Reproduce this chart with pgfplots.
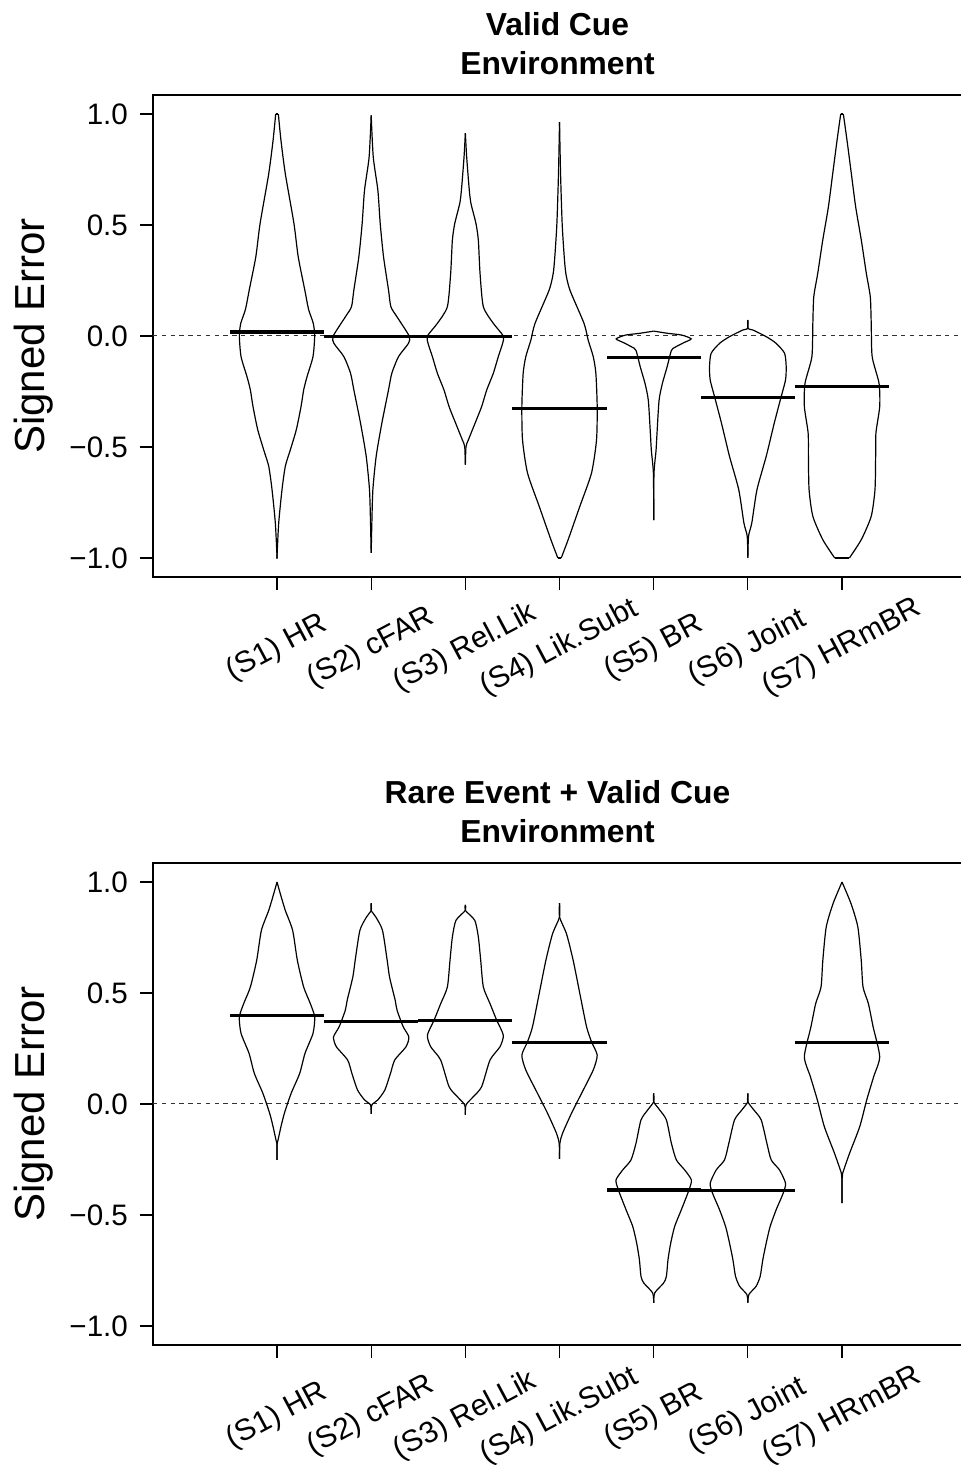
\documentclass[border=0pt]{standalone}
\usepackage{pgfplots}
\pgfplotsset{compat=1.18}
\usepackage{pgfplotstable}
\usepackage{fontspec}
\setmainfont{Liberation Sans}

% ---------- Top panel: Valid Cue Environment (y, half-width) ----------
\pgfplotstableread{
y hw
1.000 0.014
0.881 0.042
0.731 0.088
0.506 0.180
0.357 0.225
0.207 0.295
0.120 0.335
0.057 0.385
0.000 0.400
-0.093 0.382
-0.183 0.319
-0.243 0.283
-0.318 0.255
-0.422 0.205
-0.512 0.142
-0.587 0.088
-0.692 0.053
-0.842 0.018
-0.992 0.000
-1.000 0.000
}\TA
\pgfplotstableread{
y hw
0.994 0.000
0.806 0.022
0.656 0.071
0.506 0.096
0.357 0.131
0.207 0.184
0.132 0.209
0.087 0.273
0.000 0.403
-0.033 0.396
-0.093 0.290
-0.168 0.219
-0.243 0.184
-0.393 0.113
-0.542 0.053
-0.692 0.018
-0.842 0.007
-0.977 0.000
}\TB
\pgfplotstableread{
y hw
0.914 0.000
0.806 0.014
0.656 0.042
0.596 0.060
0.506 0.113
0.431 0.138
0.282 0.156
0.132 0.191
0.057 0.297
0.000 0.403
-0.033 0.396
-0.093 0.350
-0.168 0.297
-0.243 0.227
-0.318 0.173
-0.393 0.103
-0.468 0.032
-0.498 0.007
-0.580 0.000
}\TC
\pgfplotstableread{
y hw
0.963 0.000
0.731 0.011
0.506 0.028
0.357 0.050
0.282 0.067
0.207 0.110
0.057 0.260
-0.018 0.304
-0.093 0.358
-0.168 0.386
-0.318 0.400
-0.468 0.393
-0.617 0.340
-0.767 0.216
-0.917 0.092
-1.000 0.018
}\TD
\pgfplotstableread{
y hw
0.022 0.000
0.012 0.150
0.004 0.300
-0.013 0.398
-0.030 0.320
-0.050 0.230
-0.065 0.188
-0.140 0.142
-0.214 0.092
-0.290 0.057
-0.440 0.035
-0.515 0.025
-0.620 0.003
-0.829 0.000
}\TE
\pgfplotstableread{
y hw
0.072 0.000
0.034 0.000
0.027 0.053
-0.003 0.195
-0.033 0.300
-0.078 0.390
-0.138 0.407
-0.198 0.400
-0.273 0.354
-0.393 0.280
-0.542 0.195
-0.692 0.097
-0.842 0.042
-0.902 0.007
-1.000 0.000
}\TF
\pgfplotstableread{
y hw
1.000 0.014
0.881 0.053
0.731 0.099
0.581 0.145
0.431 0.205
0.282 0.258
0.177 0.300
0.057 0.310
-0.093 0.320
-0.213 0.393
-0.318 0.400
-0.437 0.360
-0.542 0.357
-0.692 0.350
-0.812 0.310
-0.917 0.205
-1.000 0.078
}\TG
\pgfplotstableread{
x m
1 0.018
2 -0.003
3 -0.003
4 -0.325
5 -0.097
6 -0.276
7 -0.226
}\TM

% ---------- Bottom panel: Rare Event + Valid Cue Environment ----------
\pgfplotstableread{
y hw
1.000 0.000
0.947 0.035
0.872 0.088
0.782 0.166
0.647 0.216
0.527 0.283
0.452 0.354
0.392 0.400
0.318 0.382
0.228 0.297
0.138 0.241
0.048 0.150
-0.042 0.078
-0.102 0.042
-0.162 0.011
-0.180 0.000
-0.252 0.000
}\BA
\pgfplotstableread{
y hw
0.905 0.000
0.872 0.000
0.842 0.050
0.782 0.120
0.647 0.170
0.572 0.195
0.467 0.255
0.422 0.275
0.348 0.340
0.302 0.400
0.258 0.370
0.198 0.250
0.138 0.205
0.063 0.145
0.018 0.070
-0.004 0.007
-0.045 0.000
}\BB
\pgfplotstableread{
y hw
0.897 0.000
0.872 0.000
0.827 0.100
0.752 0.138
0.647 0.163
0.527 0.191
0.452 0.262
0.377 0.333
0.310 0.403
0.258 0.368
0.198 0.262
0.078 0.173
0.033 0.085
-0.004 0.007
-0.049 0.000
}\BC
\pgfplotstableread{
y hw
0.905 0.000
0.842 0.000
0.767 0.074
0.647 0.145
0.497 0.216
0.348 0.287
0.280 0.340
0.220 0.400
0.153 0.358
0.048 0.234
-0.042 0.127
-0.132 0.032
-0.177 0.004
-0.247 0.000
}\BD
\pgfplotstableread{
y hw
0.048 0.000
0.010 0.000
-0.027 0.064
-0.072 0.135
-0.177 0.188
-0.252 0.241
-0.297 0.329
-0.342 0.400
-0.387 0.375
-0.476 0.294
-0.551 0.223
-0.626 0.181
-0.701 0.152
-0.776 0.135
-0.806 0.106
-0.851 0.011
-0.896 0.000
}\BE
\pgfplotstableread{
y hw
0.048 0.000
0.010 0.000
-0.027 0.064
-0.072 0.142
-0.177 0.202
-0.252 0.248
-0.297 0.336
-0.357 0.400
-0.402 0.375
-0.476 0.301
-0.551 0.237
-0.626 0.195
-0.701 0.159
-0.776 0.131
-0.821 0.088
-0.858 0.011
-0.896 0.000
}\BF
\pgfplotstableread{
y hw
1.000 0.000
0.902 0.096
0.797 0.168
0.647 0.204
0.527 0.223
0.452 0.280
0.348 0.330
0.213 0.400
0.123 0.336
0.018 0.262
-0.102 0.188
-0.222 0.080
-0.312 0.007
-0.340 0.000
-0.446 0.000
}\BG
\pgfplotstableread{
x m
1 0.398
2 0.370
3 0.377
4 0.277
5 -0.387
6 -0.391
7 0.277
}\BM

\pgfplotsset{
  vio/.style={black, line width=0.6pt, smooth, tension=0.4, mark=none},
  panel/.style={
    anchor=south west, scale only axis,
    width=404.5pt, height=241pt,
    xmin=-0.317, xmax=8.274, ymin=-1.0856, ymax=1.0856,
    axis line style={line width=0.6pt},
    tick style={line width=0.6pt, black},
    tick align=outside, tick pos=left,
    major tick length=6.5pt,
    xtick={1,2,3,4,5,6,7},
    xticklabels={(S1) HR,(S2) cFAR,(S3) Rel.Lik,(S4) Lik.Subt,(S5) BR,(S6) Joint,(S7) HRmBR},
    xticklabel style={font=\fontsize{15}{18}\selectfont, yshift=-29pt, rotate=28, anchor=center},
    ytick={-1,-0.5,0,0.5,1},
    yticklabels={−1.0,−0.5,0.0,0.5,1.0},
    yticklabel style={font=\fontsize{14.8}{17}\selectfont, xshift=-2.5pt},
    ylabel={Signed Error},
    ylabel style={font=\fontsize{21}{25}\selectfont, at={(axis description cs:-0.148,0.5)}, anchor=center, rotate=0},
    title style={font=\fontsize{15.9}{19.5}\bfseries\selectfont, align=center, at={(axis description cs:0.5,1)}, anchor=south, inner sep=0pt, yshift=4pt},
    clip=false,
  },
  meanline/.style={draw=none, mark=none, error bars/.cd, x dir=both, x fixed=0.5, error mark=none, error bar style={draw=black, solid, line width=1.6pt}},
}

\newcommand{\violin}[2]{%
  \addplot[vio] table[x expr=#1+\thisrow{hw}, y=y] {#2};
  \addplot[vio] table[x expr=#1-\thisrow{hw}, y=y] {#2};
}

\begin{document}
\begin{tikzpicture}
\useasboundingbox (0,0) rectangle (480pt,736.5pt);

\begin{axis}[panel, at={(76.5pt,448pt)}, title={Valid Cue\\Environment}]
\addplot[black!80, line width=0.5pt, dash pattern=on 2.2pt off 2.2pt] coordinates {(-0.317,0) (8.274,0)};
\violin{1}{\TA}
\violin{2}{\TB}
\violin{3}{\TC}
\violin{4}{\TD}
\violin{5}{\TE}
\violin{6}{\TF}
\violin{7}{\TG}
\addplot[black, line width=0.6pt] coordinates {(0.986,1) (1.014,1)};
\addplot[black, line width=0.6pt] coordinates {(6.986,1) (7.014,1)};
\addplot[black, line width=0.6pt] coordinates {(6.922,-1) (7.078,-1)};
\addplot[black, line width=0.6pt] coordinates {(3.982,-1) (4.018,-1)};
\addplot[meanline] table[x=x, y=m] {\TM};
\end{axis}

\begin{axis}[panel, at={(76.5pt,64pt)}, title={Rare Event + Valid Cue\\Environment}]
\addplot[black!80, line width=0.5pt, dash pattern=on 2.2pt off 2.2pt] coordinates {(-0.317,0) (8.274,0)};
\violin{1}{\BA}
\violin{2}{\BB}
\violin{3}{\BC}
\violin{4}{\BD}
\violin{5}{\BE}
\violin{6}{\BF}
\violin{7}{\BG}
\addplot[meanline] table[x=x, y=m] {\BM};
\end{axis}
\end{tikzpicture}
\end{document}
